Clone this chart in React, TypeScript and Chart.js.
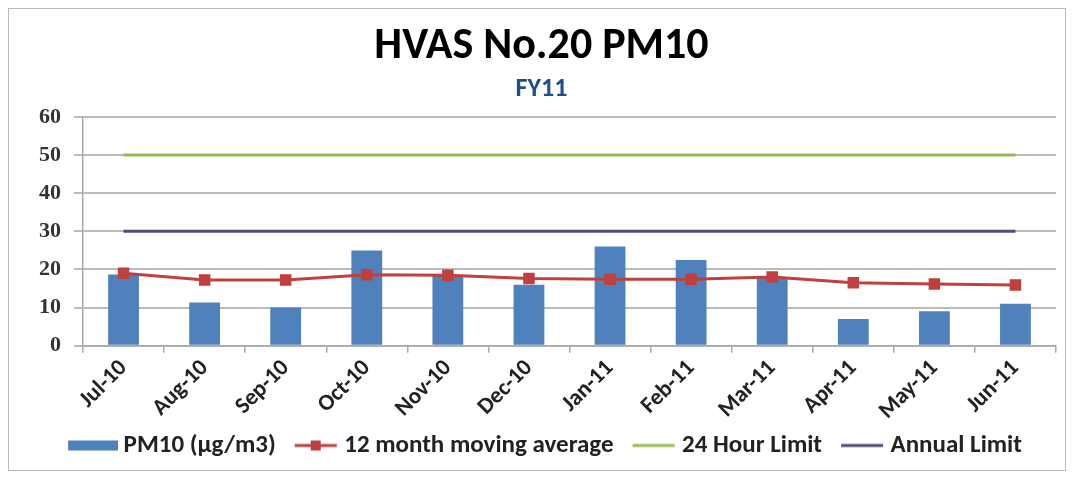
import React, { useEffect, useRef } from "react";
import { Chart, registerables } from "chart.js";

Chart.register(...registerables);

const categories = ["Jul-10", "Aug-10", "Sep-10", "Oct-10", "Nov-10", "Dec-10", "Jan-11", "Feb-11", "Mar-11", "Apr-11", "May-11", "Jun-11"];
const pm10 = [18.7, 11.3, 10.0, 25.0, 18.5, 16.0, 26.0, 22.5, 18.0, 7.0, 9.0, 11.0];
const movingAvg = [19.0, 17.2, 17.2, 18.6, 18.5, 17.6, 17.4, 17.4, 18.0, 16.5, 16.2, 15.9];
const limit24h = [50, 50, 50, 50, 50, 50, 50, 50, 50, 50, 50, 50];
const limitAnnual = [30, 30, 30, 30, 30, 30, 30, 30, 30, 30, 30, 30];
const yTicks = [0, 10, 20, 30, 40, 50, 60];

const BLUE = "#4F81BD";
const RED = "#C0403D";
const GREEN = "#98B954";
const PURPLE = "#554878";
const FONT = "Carlito, 'Liberation Sans Narrow', Lato, sans-serif";

function legendIcon(kind: string): HTMLCanvasElement {
  const c = document.createElement("canvas");
  c.width = 64;
  c.height = 14;
  const ctx = c.getContext("2d")!;
  const x0 = 14;
  if (kind === "bar") {
    ctx.fillStyle = BLUE;
    ctx.fillRect(x0, 2, 50, 10);
  } else {
    const col = kind === "avg" ? RED : kind === "green" ? GREEN : PURPLE;
    ctx.strokeStyle = col;
    ctx.lineWidth = 3;
    ctx.beginPath();
    ctx.moveTo(x0 + 6, 7);
    ctx.lineTo(x0 + 48, 7);
    ctx.stroke();
    if (kind === "avg") {
      ctx.fillStyle = RED;
      ctx.fillRect(x0 + 22, 2, 10, 10);
    }
  }
  return c;
}

export default function App() {
  const ref = useRef<HTMLCanvasElement>(null);
  useEffect(() => {
    if (!ref.current) return;
    const chart = new Chart(ref.current, {
      type: "bar",
      data: {
        labels: categories,
        datasets: [
          {
            type: "bar",
            label: "PM10 (µg/m3)",
            data: pm10,
            backgroundColor: BLUE,
            barPercentage: 0.38,
            categoryPercentage: 1,
            order: 4,
          },
          {
            type: "line",
            label: "12 month moving average",
            data: movingAvg,
            borderColor: RED,
            backgroundColor: RED,
            borderWidth: 3,
            pointStyle: "rect",
            pointRadius: 6,
            pointBackgroundColor: RED,
            pointBorderColor: RED,
            order: 1,
          } as any,
          {
            type: "line",
            label: "24 Hour Limit",
            data: limit24h,
            borderColor: GREEN,
            borderWidth: 3,
            pointRadius: 0,
            order: 2,
          },
          {
            type: "line",
            label: "Annual Limit",
            data: limitAnnual,
            borderColor: PURPLE,
            borderWidth: 3,
            pointRadius: 0,
            order: 3,
          },
        ],
      },
      options: {
        animation: false,
        responsive: true,
        maintainAspectRatio: false,
        layout: { padding: { top: 12, left: 17, right: 8, bottom: 2 } },
        plugins: {
          title: {
            display: true,
            text: "HVAS No.20 PM10",
            color: "#000",
            font: { family: FONT, size: 44, weight: "bold" },
            padding: { top: 0, bottom: 0 },
          },
          subtitle: {
            display: true,
            text: "FY11",
            color: "#1F4E8C",
            font: { family: FONT, size: 26, weight: "bold" },
            padding: { top: 0, bottom: 12 },
          },
          legend: {
            position: "bottom",
            labels: {
              usePointStyle: true,
              pointStyleWidth: 50,
              color: "#222",
              font: { family: FONT, size: 25, weight: "bold" },
              padding: 6,
              generateLabels: (chart: any) => {
                const kinds = ["bar", "avg", "green", "purple"];
                return chart.data.datasets.map((ds: any, i: number) => ({
                  text: ds.label,
                  fillStyle: "transparent",
                  strokeStyle: "transparent",
                  lineWidth: 0,
                  pointStyle: legendIcon(kinds[i]),
                  datasetIndex: i,
                  hidden: false,
                  fontColor: "#222",
                }));
              },
            },
          },
          tooltip: { enabled: false },
        },
        scales: {
          x: {
            grid: { display: true, drawOnChartArea: false, drawTicks: true, tickLength: 7, color: "#aaa", lineWidth: 1.5, offset: true },
            border: { color: "#aaa", width: 1.5 },
            ticks: {
              color: "#222",
              font: { family: FONT, size: 23, weight: "bold" },
              maxRotation: 45,
              minRotation: 45,
              padding: 2,
            },
          },
          y: {
            min: 0,
            max: 60,
            afterBuildTicks: (axis: any) => {
              axis.ticks = yTicks.map((v) => ({ value: v }));
            },
            grid: { color: "#bbb", lineWidth: 2, drawTicks: true, tickLength: 9 },
            border: { color: "#aaa", width: 1.5 },
            ticks: {
              color: "#333",
              font: { family: "'Liberation Serif', serif", size: 22, weight: "bold" },
              padding: 13,
            },
          },
        },
      },
    });
    return () => chart.destroy();
  }, []);
  return (
    <div style={{ width: 1058, height: 463, border: "1px solid #bbb", boxSizing: "border-box", position: "relative", background: "#fff" }}>
      <canvas ref={ref} />
    </div>
  );
}
